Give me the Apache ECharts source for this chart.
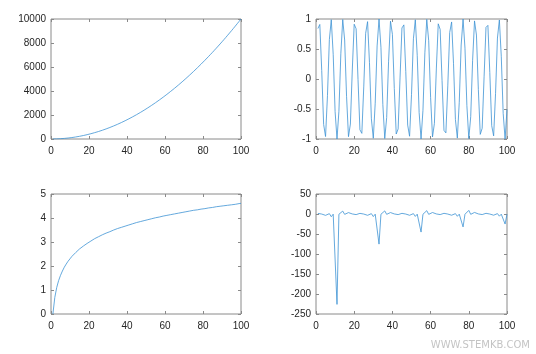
<!DOCTYPE html>
<html>
<head>
<meta charset="utf-8">
<script src="https://cdn.jsdelivr.net/npm/echarts@6/dist/echarts.min.js"></script>
<style>
  html, body { margin: 0; padding: 0; background: #fff; }
  #chart { width: 536px; height: 354px; }
</style>
</head>
<body>
<div id="chart"></div>
<script>
// x samples 1..100
var xs = [1,2,3,4,5,6,7,8,9,10,11,12,13,14,15,16,17,18,19,20,
  21,22,23,24,25,26,27,28,29,30,31,32,33,34,35,36,37,38,39,40,
  41,42,43,44,45,46,47,48,49,50,51,52,53,54,55,56,57,58,59,60,
  61,62,63,64,65,66,67,68,69,70,71,72,73,74,75,76,77,78,79,80,
  81,82,83,84,85,86,87,88,89,90,91,92,93,94,95,96,97,98,99,100];

// top left
var squareVals = [1,4,9,16,25,36,49,64,81,100,121,144,169,196,225,256,289,324,361,400,
  441,484,529,576,625,676,729,784,841,900,961,1024,1089,1156,1225,1296,1369,1444,1521,1600,
  1681,1764,1849,1936,2025,2116,2209,2304,2401,2500,2601,2704,2809,2916,3025,3136,3249,3364,3481,3600,
  3721,3844,3969,4096,4225,4356,4489,4624,4761,4900,5041,5184,5329,5476,5625,5776,5929,6084,6241,6400,
  6561,6724,6889,7056,7225,7396,7569,7744,7921,8100,8281,8464,8649,8836,9025,9216,9409,9604,9801,10000];

// top right
var sinVals = [0.841,0.909,0.141,-0.757,-0.959,-0.279,0.657,0.989,0.412,-0.544,
  -1.000,-0.537,0.420,0.991,0.650,-0.288,-0.961,-0.751,0.150,0.913,
  0.837,-0.009,-0.846,-0.906,-0.132,0.763,0.956,0.271,-0.664,-0.988,
  -0.404,0.551,1.000,0.529,-0.428,-0.992,-0.644,0.296,0.964,0.745,
  -0.159,-0.917,-0.832,0.018,0.851,0.902,0.124,-0.768,-0.954,-0.262,
  0.670,0.987,0.396,-0.559,-1.000,-0.522,0.436,0.993,0.637,-0.305,
  -0.966,-0.739,0.167,0.920,0.827,-0.027,-0.856,-0.898,-0.115,0.774,
  0.951,0.254,-0.677,-0.985,-0.388,0.566,0.999,0.514,-0.444,-0.994,
  -0.629,0.313,0.968,0.733,-0.176,-0.923,-0.821,0.035,0.860,0.894,
  0.106,-0.779,-0.948,-0.245,0.683,0.984,0.379,-0.573,-0.999,-0.506];

// bottom left
var logVals = [0,0.69,1.10,1.39,1.61,1.79,1.95,2.08,2.20,2.30,
  2.40,2.48,2.56,2.64,2.71,2.77,2.83,2.89,2.94,3.00,
  3.04,3.09,3.14,3.18,3.22,3.26,3.30,3.33,3.37,3.40,
  3.43,3.47,3.50,3.53,3.56,3.58,3.61,3.64,3.66,3.69,
  3.71,3.74,3.76,3.78,3.81,3.83,3.85,3.87,3.89,3.91,
  3.93,3.95,3.97,3.99,4.01,4.03,4.04,4.06,4.08,4.09,
  4.11,4.13,4.14,4.16,4.17,4.19,4.20,4.22,4.23,4.25,
  4.26,4.28,4.29,4.30,4.32,4.33,4.34,4.36,4.37,4.38,
  4.39,4.41,4.42,4.43,4.44,4.45,4.47,4.48,4.49,4.50,
  4.51,4.52,4.53,4.54,4.55,4.56,4.57,4.58,4.60,4.61];

// bottom right
var tanVals = [1.56,-2.19,-0.14,1.16,-3.38,-0.29,0.87,-6.80,-0.45,0.65,
  -225.95,-0.64,0.46,7.24,-0.86,0.30,3.49,-1.14,0.15,2.24,
  -1.53,0.01,1.59,-2.13,-0.13,1.18,-3.27,-0.28,0.89,-6.41,
  -0.44,0.66,-75.31,-0.62,0.47,7.75,-0.84,0.31,3.61,-1.12,
  0.16,2.29,-1.50,0.02,1.62,-2.09,-0.13,1.20,-3.18,-0.27,
  0.90,-6.05,-0.43,0.67,-45.18,-0.61,0.49,8.35,-0.83,0.32,
  3.73,-1.10,0.17,2.35,-1.47,0.03,1.65,-2.04,-0.12,1.22,
  -3.08,-0.26,0.92,-5.73,-0.42,0.69,-32.27,-0.60,0.50,9.00,
  -0.81,0.33,3.87,-1.08,0.18,2.41,-1.44,0.04,1.69,-2.00,
  -0.11,1.25,-2.99,-0.25,0.94,-5.45,-0.41,0.70,-25.09,-0.59];

var xTicks = {min: 0, max: 100, interval: 20};
var yRanges = [
  {min: 0, max: 10000, interval: 2000},
  {min: -1, max: 1, interval: 0.5},
  {min: 0, max: 5, interval: 1},
  {min: -250, max: 50, interval: 50}
];
var panels = [squareVals, sinVals, logVals, tanVals];

var grids = [
  {left: 51, top: 19, width: 190, height: 120},
  {left: 316, top: 19, width: 191, height: 120},
  {left: 51, top: 194, width: 190, height: 120},
  {left: 316, top: 194, width: 191, height: 120}
];

var labelStyle = {
  color: '#262626', fontSize: 10, fontFamily: 'Liberation Sans',
  formatter: function (v) { return String(v); }
};
var frameColor = '#8a8a8a';

var xAxes = [], yAxes = [], series = [];
grids.forEach(function (g, i) {
  g.show = true;
  g.borderColor = frameColor;
  g.borderWidth = 1;
  g.containLabel = false;
  ['bottom', 'top'].forEach(function (pos) {
    xAxes.push({
      type: 'value', gridIndex: i, position: pos,
      min: xTicks.min, max: xTicks.max, interval: xTicks.interval,
      axisLine: {show: false, onZero: false},
      axisTick: {show: true, inside: true, length: 3, lineStyle: {color: frameColor}},
      axisLabel: Object.assign({show: pos === 'bottom', margin: 7}, labelStyle),
      splitLine: {show: false}
    });
  });
  ['left', 'right'].forEach(function (pos) {
    yAxes.push({
      type: 'value', gridIndex: i, position: pos,
      min: yRanges[i].min, max: yRanges[i].max, interval: yRanges[i].interval,
      axisLine: {show: false, onZero: false},
      axisTick: {show: true, inside: true, length: 3, lineStyle: {color: frameColor}},
      axisLabel: Object.assign({show: pos === 'left', margin: 5}, labelStyle),
      splitLine: {show: false}
    });
  });
  series.push({
    type: 'line',
    xAxisIndex: i * 2,
    yAxisIndex: i * 2,
    data: xs.map(function (x, k) { return [x, panels[i][k]]; }),
    showSymbol: false,
    symbol: 'none',
    lineStyle: {color: '#3d93d4', width: 0.8},
    animation: false
  });
});

var mychart = echarts.init(document.getElementById('chart'));
mychart.setOption({
  animation: false,
  grid: grids,
  xAxis: xAxes,
  yAxis: yAxes,
  series: series,
  graphic: [{
    type: 'text', right: 6, bottom: 4,
    style: {text: 'WWW.STEMKB.COM', fill: '#c4c4c4', fontSize: 10, fontFamily: 'DejaVu Sans'}
  }]
});
</script>
</body>
</html>
